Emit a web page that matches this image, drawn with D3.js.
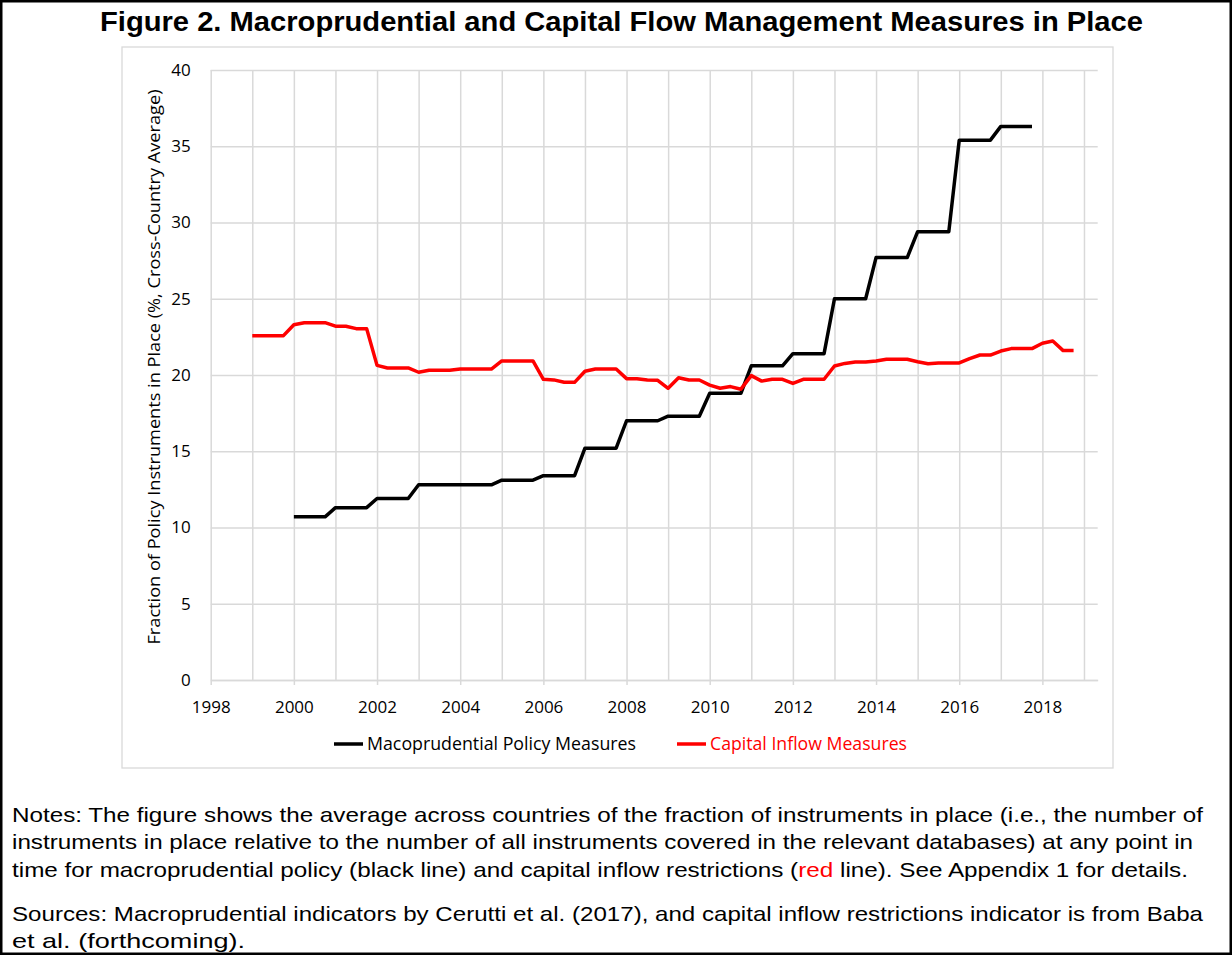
<!DOCTYPE html>
<html>
<head>
<meta charset="utf-8">
<script src="https://cdn.jsdelivr.net/npm/d3@7/dist/d3.min.js"></script>
<style>
    body { margin: 0; background: #fff; }
    .axis text { font-family: "Open Sans", sans-serif; font-size: 17px; fill: #000; }
    .legend text { font-family: "Open Sans", sans-serif; font-size: 17.5px; }
    .notes text { font-family: "Liberation Sans", Arial, sans-serif; font-size: 21px; fill: #000; }
</style>
</head>
<body>
<div id="chart"></div>
<script>

// quarterly series, one row of 4 quarters per year
const macroStartYear = 2000;
const macroprudential = [
    10.7, 10.7, 10.7, 10.7,   // 2000
    11.3, 11.3, 11.3, 11.3,
    11.9, 11.9, 11.9, 11.9,
    12.8, 12.8, 12.8, 12.8,
    12.8, 12.8, 12.8, 12.8,
    13.1, 13.1, 13.1, 13.1,   // 2005
    13.4, 13.4, 13.4, 13.4,
    15.2, 15.2, 15.2, 15.2,
    17.0, 17.0, 17.0, 17.0,
    17.3, 17.3, 17.3, 17.3,
    18.8, 18.8, 18.8, 18.8,   // 2010
    20.6, 20.6, 20.6, 20.6,
    21.4, 21.4, 21.4, 21.4,
    25.0, 25.0, 25.0, 25.0,
    27.7, 27.7, 27.7, 27.7,
    29.4, 29.4, 29.4, 29.4,   // 2015
    35.4, 35.4, 35.4, 35.4,
    36.3, 36.3, 36.3, 36.3
];

const inflowStartYear = 1999;
const capitalInflow = [
    22.58, 22.58, 22.58, 22.58,   // 1999
    23.30, 23.43, 23.43, 23.43,
    23.20, 23.20, 23.04, 23.04,
    20.63, 20.46, 20.46, 20.46,
    20.18, 20.31, 20.31, 20.31,
    20.39, 20.39, 20.39, 20.39,
    20.92, 20.92, 20.92, 20.92,   // 2005
    19.72, 19.68, 19.52, 19.52,
    20.25, 20.39, 20.39, 20.39,
    19.76, 19.76, 19.67, 19.65,
    19.13, 19.82, 19.67, 19.67,
    19.34, 19.13, 19.24, 19.07,   // 2010
    19.96, 19.60, 19.72, 19.72,
    19.45, 19.72, 19.72, 19.72,
    20.59, 20.76, 20.85, 20.85,
    20.92, 21.03, 21.03, 21.03,
    20.87, 20.74, 20.79, 20.79,   // 2015
    20.79, 21.07, 21.31, 21.31,
    21.57, 21.73, 21.73, 21.73,
    22.08, 22.23, 21.60, 21.60
];

const xTicks = [1998, 2000, 2002, 2004, 2006, 2008, 2010, 2012, 2014, 2016, 2018];
const xGridYears = d3.range(1998, 2020);
const yTicks = [0, 5, 10, 15, 20, 25, 30, 35, 40];

const seriesNames = ["Macoprudential Policy Measures", "Capital Inflow Measures"];
const seriesColors = ["#000000", "#ff0000"];

const titleText = "Figure 2. Macroprudential and Capital Flow Management Measures in Place";
const yLabelText = "Fraction of Policy Instruments in Place (%, Cross-Country Average)";

// turn a quarterly list into {t, v} points
function toPoints(startYear, values) {
    return values.map(function (v, i) {
        return { t: startYear + i / 4, v: v };
    });
}

const width = 1232;
const height = 955;
const margin = { top: 70, left: 210.7, right: 134.3, bottom: 275 };

const svg = d3.select("#chart")
    .append("svg")
    .attr("width", width)
    .attr("height", height);

// outer frame
svg.append("rect")
    .attr("x", 1.25).attr("y", 1.25)
    .attr("width", width - 2.5).attr("height", height - 2.5)
    .attr("fill", "none")
    .attr("stroke", "black")
    .attr("stroke-width", 2.5);

// title
svg.append("text")
    .attr("x", 100)
    .attr("y", 31)
    .attr("textLength", 1043)
    .attr("lengthAdjust", "spacingAndGlyphs")
    .style("font-family", "'Liberation Sans', Arial, sans-serif")
    .style("font-weight", "bold")
    .style("font-size", "28px")
    .text(titleText);

// chart area box
svg.append("rect")
    .attr("x", 122).attr("y", 47)
    .attr("width", 991).attr("height", 721)
    .attr("fill", "none")
    .attr("stroke", "#d9d9d9")
    .attr("stroke-width", 1.3);

/*
SCALES
*/
const xScale = d3.scaleLinear()
    .domain([1998, 2019.33])
    .range([margin.left, width - margin.right]);

const yScale = d3.scaleLinear()
    .domain([0, 40])
    .range([height - margin.bottom, margin.top]);

/*
GRIDLINES
*/
svg.append("g")
    .attr("class", "grid")
    .attr("transform", `translate(0,${height - margin.bottom})`)
    .call(d3.axisBottom(xScale).tickValues(xGridYears).tickSize(-(height - margin.bottom - margin.top)).tickFormat(""))
    .call(g => g.select(".domain").remove())
    .call(g => g.selectAll("line").attr("stroke", "#d9d9d9").attr("stroke-width", 1.5));

svg.append("g")
    .attr("class", "grid")
    .attr("transform", `translate(${margin.left},0)`)
    .call(d3.axisLeft(yScale).tickValues(yTicks).tickSize(-(width - margin.right - margin.left)).tickFormat(""))
    .call(g => g.select(".domain").remove())
    .call(g => g.selectAll("line").attr("stroke", "#d9d9d9").attr("stroke-width", 1.5));

/*
AXES
*/
const xAxis = svg.append("g")
    .attr("class", "axis")
    .attr("transform", `translate(0,${height - margin.bottom})`)
    .call(d3.axisBottom(xScale).tickValues(xTicks).tickSizeInner(5).tickSizeOuter(0).tickPadding(16).tickFormat(d3.format("d")));
xAxis.select(".domain").attr("stroke", "#d9d9d9").attr("stroke-width", 1.5);
xAxis.selectAll(".tick line").attr("stroke", "#d9d9d9").attr("stroke-width", 1.5);

const yAxis = svg.append("g")
    .attr("class", "axis")
    .attr("transform", `translate(${margin.left},0)`)
    .call(d3.axisLeft(yScale).tickValues(yTicks).tickSize(0).tickPadding(20));
yAxis.select(".domain").remove();

svg.append("text")
    .attr("transform", `translate(160,${(margin.top + height - margin.bottom) / 2 - 8}) rotate(-90)`)
    .attr("text-anchor", "middle")
    .style("font-family", "'Open Sans', sans-serif")
    .style("font-size", "16px")
    .attr("textLength", 555)
    .attr("lengthAdjust", "spacingAndGlyphs")
    .text(yLabelText);

/*
LINES
*/
const line = d3.line()
    .x(function (d) { return xScale(d.t); })
    .y(function (d) { return yScale(d.v); });

const series = [toPoints(macroStartYear, macroprudential), toPoints(inflowStartYear, capitalInflow)];

svg.selectAll(".series")
    .data(series)
    .enter()
    .append("path")
    .attr("class", "series")
    .attr("d", line)
    .attr("fill", "none")
    .attr("stroke", function (d, i) { return seriesColors[i]; })
    .attr("stroke-width", 3.5)
    .attr("stroke-linejoin", "round");

/*
LEGEND
*/
const legendX = [334, 677];
const legendW = [269, 197];
const legend = svg.append("g").attr("class", "legend");
seriesNames.forEach(function (name, i) {
    legend.append("line")
        .attr("x1", legendX[i]).attr("x2", legendX[i] + 29)
        .attr("y1", 744).attr("y2", 744)
        .attr("stroke", seriesColors[i])
        .attr("stroke-width", 3.5);
    legend.append("text")
        .attr("x", legendX[i] + 33)
        .attr("y", 744)
        .attr("dy", "0.35em")
        .attr("fill", seriesColors[i])
        .attr("textLength", legendW[i])
        .attr("lengthAdjust", "spacingAndGlyphs")
        .text(name);
});

/*
NOTES
*/
const notes = svg.append("g").attr("class", "notes");
const noteLines = [
    { y: 822, w: 1191, parts: [["Notes: The figure shows the average across countries of the fraction of instruments in place (i.e., the number of", "#000"]] },
    { y: 849, w: 1181, parts: [["instruments in place relative to the number of all instruments covered in the relevant databases) at any point in", "#000"]] },
    { y: 877, w: 1176, parts: [["time for macroprudential policy (black line) and capital inflow restrictions (", "#000"], ["red", "#ff0000"], [" line). See Appendix 1 for details.", "#000"]] },
    { y: 921, w: 1191, parts: [["Sources: Macroprudential indicators by Cerutti et al. (2017),  and capital inflow restrictions indicator is from Baba", "#000"]] },
    { y: 948, w: 233, parts: [["et al. (forthcoming).", "#000"]] }
];
noteLines.forEach(function (l) {
    const t = notes.append("text")
        .attr("x", 12)
        .attr("y", l.y)
        .attr("textLength", l.w)
        .attr("lengthAdjust", "spacingAndGlyphs");
    l.parts.forEach(function (p) {
        t.append("tspan").attr("fill", p[1]).text(p[0]);
    });
});

</script>
</body>
</html>
